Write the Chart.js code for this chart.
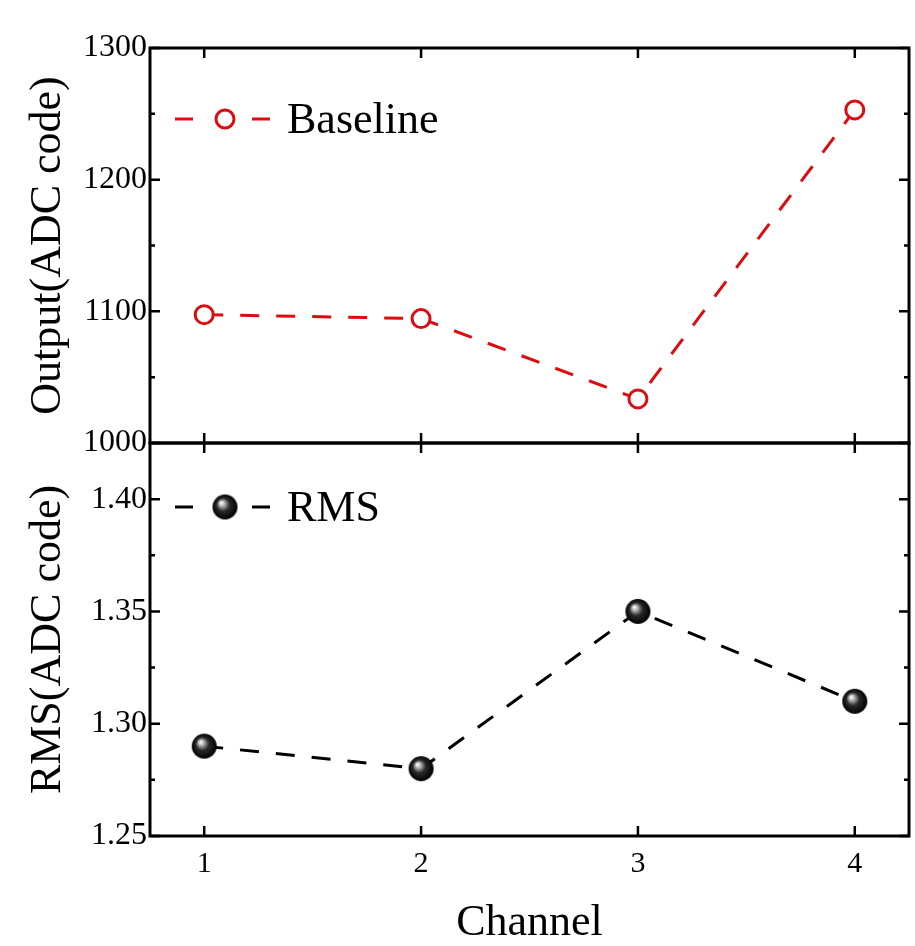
<!DOCTYPE html>
<html lang="en">
<head>
<meta charset="UTF-8">
<title>Baseline and RMS per channel</title>
<style>
  html, body { margin: 0; padding: 0; background: #fff; }
  #wrap { position: relative; width: 915px; height: 946px; }
  #topChart { position: absolute; left: 0; top: 0; }
  #botChart { position: absolute; left: 0; top: 441px; }
</style>
<script src="https://cdn.jsdelivr.net/npm/chart.js"></script>
</head>
<body>
<div id="wrap">
  <canvas id="topChart" width="915" height="470"></canvas>
  <canvas id="botChart" width="915" height="505"></canvas>
</div>
<script>
// data
const channels = [1, 2, 3, 4];
const baseline = [1097.5, 1094.5, 1033.5, 1253];
const rms = [1.29, 1.28, 1.35, 1.31];
const baselineTicks = [1000, 1100, 1200, 1300];
const rmsTicks = [1.25, 1.30, 1.35, 1.40];

const serif = '"Liberation Serif", "Times New Roman", serif';
const red = 'rgb(220, 12, 16)';

// shaded black ball used as the RMS marker
function makeBall(r) {
  const c = document.createElement('canvas');
  c.width = c.height = 2 * r + 2;
  const g = c.getContext('2d');
  const m = r + 1;
  const grad = g.createRadialGradient(m - r * 0.3, m - r * 0.35, 0.5, m, m, r);
  grad.addColorStop(0, '#ffffff');
  grad.addColorStop(0.2, '#b0b0b0');
  grad.addColorStop(0.5, '#2a2a2a');
  grad.addColorStop(1, '#000000');
  g.fillStyle = grad;
  g.beginPath();
  g.arc(m, m, r, 0, Math.PI * 2);
  g.fill();
  return c;
}
const ball = makeBall(12.5);

// box frame with inward ticks (major + minor on y)
const frameTicks = {
  id: 'frameTicks',
  afterDraw(chart) {
    const { ctx, chartArea: a, scales: { x, y } } = chart;
    ctx.save();
    ctx.strokeStyle = '#000';
    ctx.lineWidth = 3;
    ctx.strokeRect(a.left, a.top, a.right - a.left, a.bottom - a.top);
    ctx.lineWidth = 2.5;
    ctx.beginPath();
    const yt = y.ticks.map(t => t.value);
    yt.forEach(v => {
      const py = y.getPixelForValue(v);
      ctx.moveTo(a.left, py); ctx.lineTo(a.left + 10, py);
      ctx.moveTo(a.right, py); ctx.lineTo(a.right - 10, py);
    });
    for (let i = 0; i < yt.length - 1; i++) {
      const py = y.getPixelForValue((yt[i] + yt[i + 1]) / 2);
      ctx.moveTo(a.left, py); ctx.lineTo(a.left + 5, py);
      ctx.moveTo(a.right, py); ctx.lineTo(a.right - 5, py);
    }
    channels.forEach(c => {
      const px = x.getPixelForValue(c);
      ctx.moveTo(px, a.top); ctx.lineTo(px, a.top + 10);
      ctx.moveTo(px, a.bottom); ctx.lineTo(px, a.bottom - 10);
    });
    ctx.stroke();
    ctx.restore();
  }
};

// legend row: dash - marker - dash - label
const lineLegend = {
  id: 'lineLegend',
  afterDraw(chart, args, opts) {
    const ctx = chart.ctx;
    const ds = chart.data.datasets[0];
    const x0 = opts.x, y0 = opts.y;
    ctx.save();
    ctx.strokeStyle = ds.borderColor;
    ctx.lineWidth = 3;
    ctx.beginPath();
    ctx.moveTo(x0, y0); ctx.lineTo(x0 + 18, y0);
    ctx.moveTo(x0 + 77, y0); ctx.lineTo(x0 + 95, y0);
    ctx.stroke();
    ctx.fillStyle = ds.pointBackgroundColor;
    ctx.strokeStyle = ds.pointBorderColor;
    ctx.lineWidth = ds.pointBorderWidth;
    Chart.helpers.drawPoint(ctx, {
      pointStyle: ds.pointStyle, radius: ds.pointRadius,
      rotation: 0, borderWidth: ds.pointBorderWidth
    }, x0 + 50, y0);
    ctx.fillStyle = '#000';
    ctx.font = '44px ' + serif;
    ctx.textBaseline = 'middle';
    ctx.fillText(ds.label, x0 + 112, y0 + 2);
    ctx.restore();
  }
};

function xScale(showAxis) {
  return {
    type: 'linear', min: 0.75, max: 4.25, display: showAxis,
    afterBuildTicks: s => { s.ticks = channels.map(v => ({ value: v })); },
    afterFit: s => { s.height = showAxis ? 110 : 0; s.paddingLeft = 0; s.paddingRight = 0; },
    grid: { display: false, drawTicks: false },
    border: { display: false },
    ticks: { color: '#000', font: { family: serif, size: 30 }, padding: 10 },
    title: {
      display: showAxis, text: 'Channel', color: '#000',
      font: { family: serif, size: 44, lineHeight: 1 }, padding: { top: 0, bottom: 1 }
    }
  };
}

function yScale(min, max, tickVals, fmt, title) {
  return {
    type: 'linear', min: min, max: max,
    afterBuildTicks: s => { s.ticks = tickVals.map(v => ({ value: v })); },
    afterFit: s => { s.width = 150; s.paddingTop = 0; s.paddingBottom = 0; },
    grid: { display: false, drawTicks: false },
    border: { display: false },
    ticks: { color: '#000', font: { family: serif, size: 32 }, padding: 3, callback: fmt },
    title: {
      display: true, text: title, color: '#000',
      font: { family: serif, size: 44, lineHeight: 1 }, padding: { top: 26, bottom: 0 }
    }
  };
}

new Chart(document.getElementById('topChart'), {
  type: 'line',
  data: {
    datasets: [{
      label: 'Baseline',
      data: channels.map((c, i) => ({ x: c, y: baseline[i] })),
      borderColor: red, borderWidth: 3, borderDash: [19, 17],
      pointStyle: 'circle', pointRadius: 9, pointBorderWidth: 3,
      pointBorderColor: red, pointBackgroundColor: '#fff',
      fill: false, tension: 0, clip: false
    }]
  },
  options: {
    responsive: false, animation: false, events: [],
    layout: { autoPadding: false, padding: { top: 48, right: 6, left: 0, bottom: 27 } },
    scales: {
      x: xScale(false),
      y: yScale(1000, 1300, baselineTicks, v => String(v), 'Output(ADC code)')
    },
    plugins: {
      legend: { display: false }, tooltip: { enabled: false },
      lineLegend: { x: 175, y: 119 }
    }
  },
  plugins: [frameTicks, lineLegend]
});

new Chart(document.getElementById('botChart'), {
  type: 'line',
  data: {
    datasets: [{
      label: 'RMS',
      data: channels.map((c, i) => ({ x: c, y: rms[i] })),
      borderColor: '#000', borderWidth: 3, borderDash: [19, 17],
      pointStyle: ball, pointRadius: 12, pointBorderWidth: 0,
      pointBorderColor: '#000', pointBackgroundColor: '#000',
      fill: false, tension: 0, clip: false
    }]
  },
  options: {
    responsive: false, animation: false, events: [],
    layout: { autoPadding: false, padding: { top: 2, right: 6, left: 0, bottom: 0 } },
    scales: {
      x: xScale(true),
      y: yScale(1.25, 1.425, rmsTicks, v => v.toFixed(2), 'RMS(ADC code)')
    },
    plugins: {
      legend: { display: false }, tooltip: { enabled: false },
      lineLegend: { x: 175, y: 66 }
    }
  },
  plugins: [frameTicks, lineLegend]
});
</script>
</body>
</html>
